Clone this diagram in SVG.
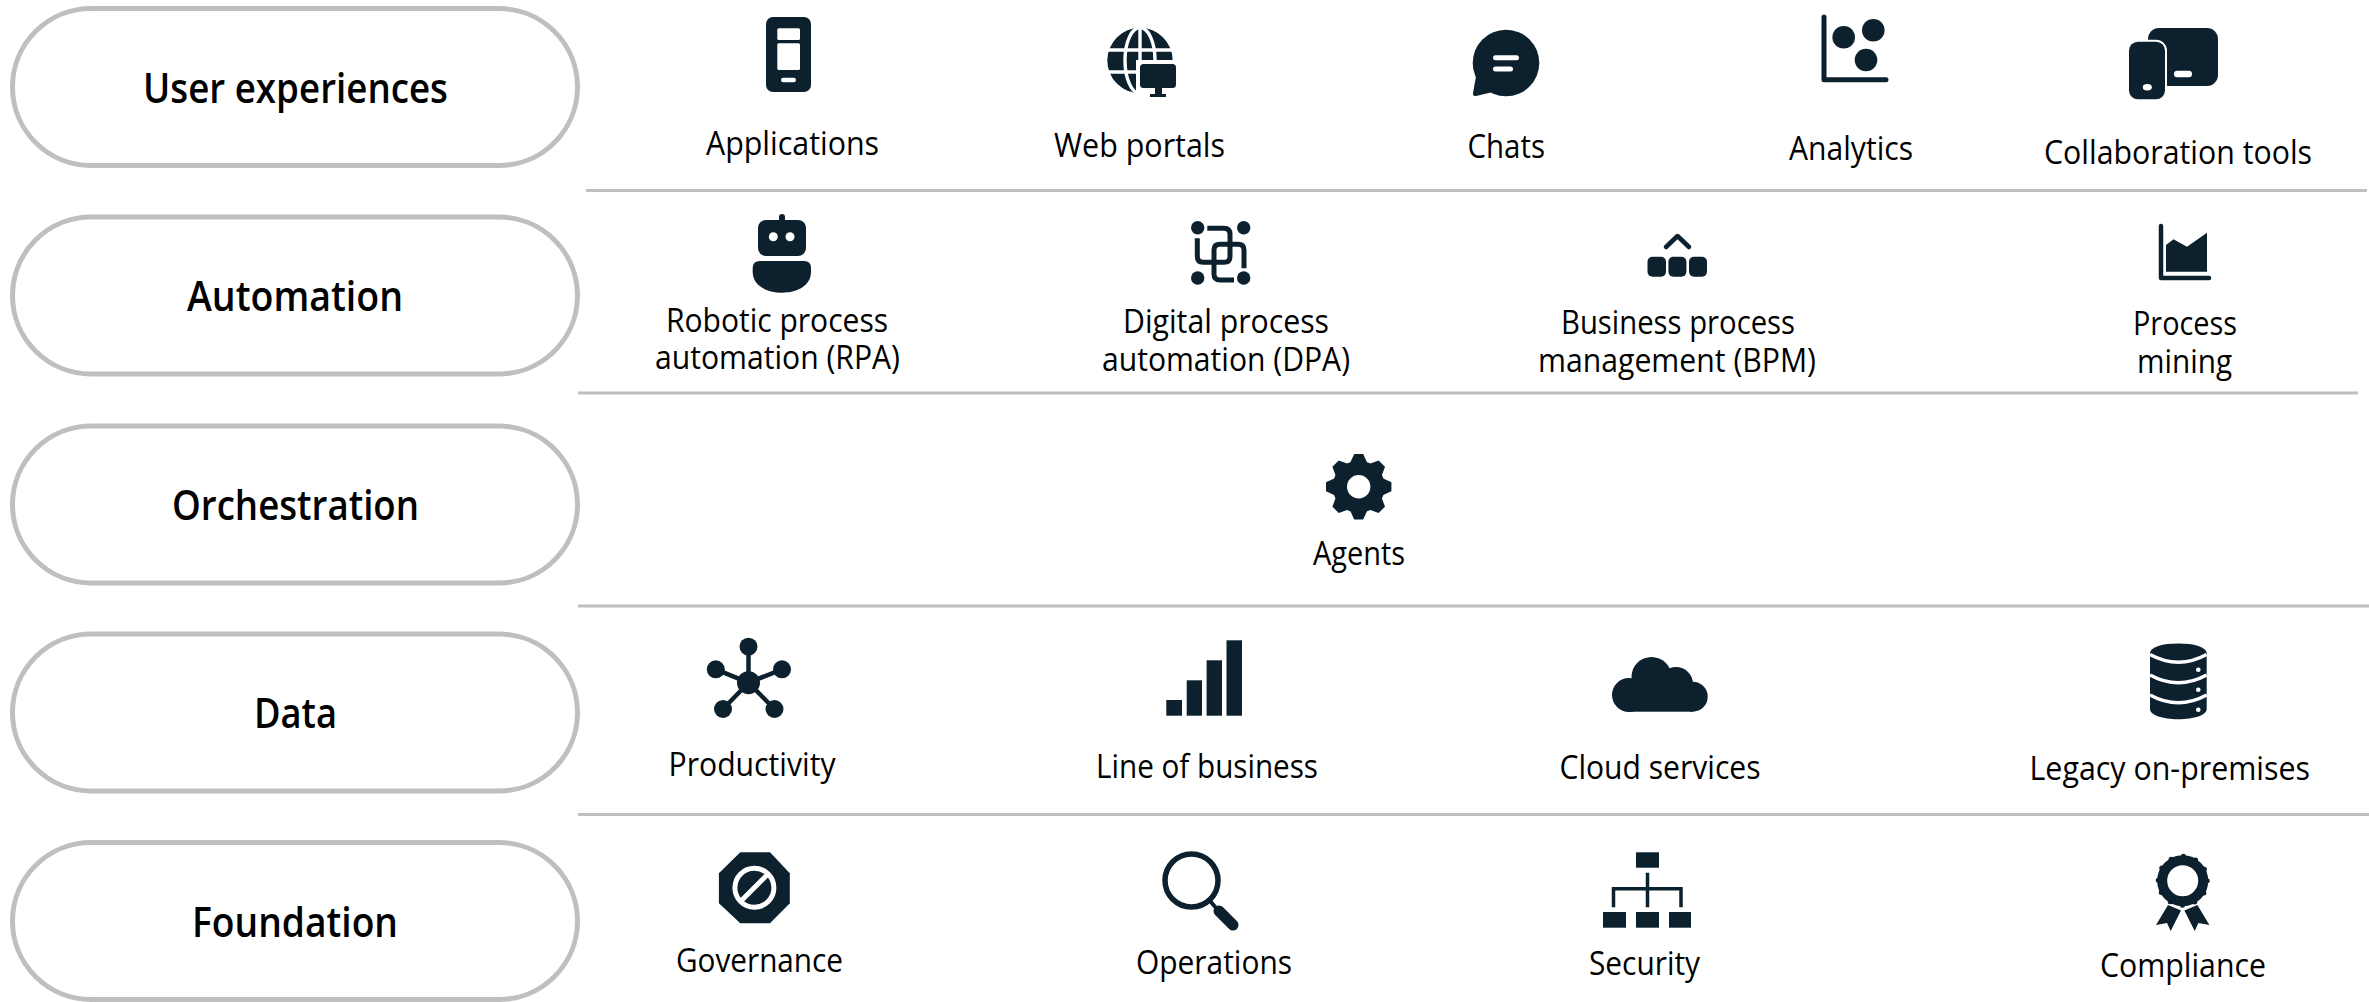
<svg xmlns="http://www.w3.org/2000/svg" xmlns:xlink="http://www.w3.org/1999/xlink" width="2369" height="1002" viewBox="0 0 2369 1002">
<style>
text{font-family:"Open Sans","Noto Sans","Liberation Sans",sans-serif;fill:#000}
.l{font-size:32px}
.h{font-size:42px;font-weight:600}
.pill{fill:#fff;stroke:#bfbfbf;stroke-width:5}
.sep{stroke:#bfbfbf;stroke-width:3;fill:none}
.d{fill:#0c202e}
.w{fill:#fff}
.s{fill:none;stroke:#0c202e;stroke-linecap:round;stroke-linejoin:round}
.ws{fill:none;stroke:#fff;stroke-linecap:round}
</style>
<defs>
<rect id="p" x="12.5" width="565" height="157" rx="78.5" class="pill"/>
<path id="tooth" d="M-8.5,-24 L-4.5,-32.7 H4.5 L8.5,-24 Z" class="d"/>
</defs>
<rect width="2369" height="1002" fill="#fff"/>
<g id="connectors">
<path class="sep" d="M586,190.5H2367"/>
<path class="sep" d="M578,393H2358"/>
<path class="sep" d="M578,606H2369"/>
<path class="sep" d="M578,814.5H2369"/>
</g>
<g id="layer-user-experiences"><use xlink:href="#p" y="8.5"/><text class="h" x="143" y="103" textLength="305" lengthAdjust="spacingAndGlyphs">User experiences</text></g>
<g id="layer-automation"><use xlink:href="#p" y="217"/><text class="h" x="187" y="311" textLength="216" lengthAdjust="spacingAndGlyphs">Automation</text></g>
<g id="layer-orchestration"><use xlink:href="#p" y="426"/><text class="h" x="172" y="520" textLength="247" lengthAdjust="spacingAndGlyphs">Orchestration</text></g>
<g id="layer-data"><use xlink:href="#p" y="634"/><text class="h" x="254" y="728" textLength="83" lengthAdjust="spacingAndGlyphs">Data</text></g>
<g id="layer-foundation"><use xlink:href="#p" y="842.5"/><text class="h" x="192" y="937" textLength="206" lengthAdjust="spacingAndGlyphs">Foundation</text></g>

<g id="applications">
<rect class="d" x="766" y="17" width="45" height="75" rx="7"/>
<rect class="w" x="777.3" y="28.3" width="22.7" height="11.7" rx="1.5"/>
<rect class="w" x="777.3" y="43.3" width="22.7" height="26.7" rx="1.5"/>
<rect class="w" x="781" y="77.7" width="15" height="4.6" rx="2.3"/>
<text class="l" x="706" y="155" textLength="173" lengthAdjust="spacingAndGlyphs">Applications</text>
</g>
<g id="web-portals">
<circle class="d" cx="1140" cy="60.5" r="32.7"/>
<g class="ws" stroke-width="3.4" style="stroke-linecap:butt">
<path d="M1107,50H1173M1107,72H1173M1140,27V94"/>
<ellipse cx="1140" cy="60.5" rx="15" ry="33"/>
</g>
<rect class="w" x="1136" y="60" width="44" height="38"/>
<rect class="d" x="1140" y="64" width="36" height="24" rx="3.5"/>
<path class="d" d="M1155,88H1162V94H1166V97H1150V94H1155Z"/>
<text class="l" x="1054" y="157" textLength="171" lengthAdjust="spacingAndGlyphs">Web portals</text>
</g>
<g id="chats">
<circle class="d" cx="1506" cy="63" r="33.3"/>
<path class="d" d="M1477,71L1473,93Q1472.5,96.5 1476,96L1493,92Z"/>
<rect class="w" x="1493" y="55.2" width="26" height="5" rx="2.5"/>
<rect class="w" x="1493" y="66.5" width="20" height="5" rx="2.5"/>
<text class="l" x="1467.5" y="158" textLength="77.5" lengthAdjust="spacingAndGlyphs">Chats</text>
</g>
<g id="analytics">
<path class="s" stroke-width="5" d="M1824,17V79.7H1886"/>
<circle class="d" cx="1843.7" cy="37.3" r="11.3"/>
<circle class="d" cx="1873.3" cy="30.3" r="11.3"/>
<circle class="d" cx="1866" cy="60" r="11.3"/>
<text class="l" x="1789" y="159.5" textLength="124" lengthAdjust="spacingAndGlyphs">Analytics</text>
</g>
<g id="collaboration-tools">
<rect class="d" x="2148" y="28" width="70" height="58" rx="11"/>
<rect class="d" x="2129" y="41.7" width="36" height="57.6" rx="9" style="stroke:#fff;stroke-width:4;paint-order:stroke"/>
<ellipse class="w" cx="2147.3" cy="87.3" rx="4.5" ry="3.2"/>
<rect class="w" x="2174" y="70.7" width="18" height="6.6" rx="3.3"/>
<text class="l" x="2044" y="164" textLength="268" lengthAdjust="spacingAndGlyphs">Collaboration tools</text>
</g>

<g id="rpa">
<rect class="d" x="779" y="214" width="6" height="10" rx="3"/>
<rect class="d" x="758" y="220" width="48" height="36" rx="8"/>
<circle class="w" cx="773.3" cy="236.7" r="4.5"/>
<circle class="w" cx="790" cy="236.7" r="4.5"/>
<path class="d" d="M760,261H804Q811,261 811,268V272C811,285 798,292.7 782,292.7C766,292.7 752.7,285 752.7,272V268Q752.7,261 760,261Z"/>
<text class="l"><tspan x="666" y="332" textLength="222" lengthAdjust="spacingAndGlyphs">Robotic process</tspan><tspan x="655" y="369" textLength="245" lengthAdjust="spacingAndGlyphs">automation (RPA)</tspan></text>
</g>
<g id="dpa">
<circle class="d" cx="1197.7" cy="227.7" r="6.7"/>
<circle class="d" cx="1243.7" cy="227.7" r="6.7"/>
<circle class="d" cx="1197.7" cy="278" r="6.7"/>
<circle class="d" cx="1243.7" cy="278" r="6.7"/>
<path class="s" stroke-width="5" style="stroke-linecap:butt" d="M1207.3,228.3H1224Q1230,228.3 1230,234.3V256.7Q1230,262.3 1224,262.3H1203Q1197.3,262.3 1197.3,256V238.3"/>
<path class="s" stroke-width="5" style="stroke-linecap:butt" d="M1244,268.3V250Q1244,244.3 1238,244.3H1220Q1214,244.3 1214,250V274Q1214,280 1220,280H1234"/>
<text class="l"><tspan x="1123" y="333" textLength="206" lengthAdjust="spacingAndGlyphs">Digital process</tspan><tspan x="1102" y="371" textLength="248" lengthAdjust="spacingAndGlyphs">automation (DPA)</tspan></text>
</g>
<g id="bpm">
<path class="s" stroke-width="4.5" d="M1666,247L1677.5,236L1689,247"/>
<rect class="d" x="1647.5" y="256.7" width="18.5" height="20" rx="5"/>
<rect class="d" x="1668.4" y="256.7" width="18" height="20" rx="5"/>
<rect class="d" x="1689" y="256.7" width="18" height="20" rx="5"/>
<text class="l"><tspan x="1561" y="334" textLength="234" lengthAdjust="spacingAndGlyphs">Business process</tspan><tspan x="1538" y="372" textLength="278" lengthAdjust="spacingAndGlyphs">management (BPM)</tspan></text>
</g>
<g id="process-mining">
<path class="s" stroke-width="4.5" d="M2161,226V278H2209"/>
<path class="d" d="M2166,245L2173.5,239.3L2187,246.7L2207,232.7V271.7H2166Z"/>
<text class="l"><tspan x="2133" y="335" textLength="104" lengthAdjust="spacingAndGlyphs">Process</tspan><tspan x="2137" y="373" textLength="95" lengthAdjust="spacingAndGlyphs">mining</tspan></text>
</g>

<g id="agents">
<g transform="translate(1358.7,486.7)">
<circle class="d" r="26"/>
<use xlink:href="#tooth"/>
<use xlink:href="#tooth" transform="rotate(45)"/>
<use xlink:href="#tooth" transform="rotate(90)"/>
<use xlink:href="#tooth" transform="rotate(135)"/>
<use xlink:href="#tooth" transform="rotate(180)"/>
<use xlink:href="#tooth" transform="rotate(225)"/>
<use xlink:href="#tooth" transform="rotate(270)"/>
<use xlink:href="#tooth" transform="rotate(315)"/>
<circle class="w" r="11.7"/>
</g>
<text class="l" x="1313" y="565" textLength="92" lengthAdjust="spacingAndGlyphs">Agents</text>
</g>

<g id="productivity">
<path class="s" stroke-width="4.5" d="M748.5,646.7V682.7M715.8,669.3L748.5,682.7L782,669.3M723,709L748.5,682.7L774.5,709"/>
<circle class="d" cx="748.5" cy="682.7" r="11.5"/>
<circle class="d" cx="748.5" cy="646.7" r="9"/>
<circle class="d" cx="715.8" cy="669.3" r="9"/>
<circle class="d" cx="782" cy="669.3" r="9"/>
<circle class="d" cx="723" cy="709" r="9"/>
<circle class="d" cx="774.5" cy="709" r="9"/>
<text class="l" x="668.5" y="776" textLength="167" lengthAdjust="spacingAndGlyphs">Productivity</text>
</g>
<g id="line-of-business">
<rect class="d" x="1166.3" y="700" width="15.7" height="15.7"/>
<rect class="d" x="1186.7" y="680.3" width="15.3" height="35.4"/>
<rect class="d" x="1206.6" y="660.3" width="15.4" height="55.4"/>
<rect class="d" x="1226.5" y="640.3" width="15.5" height="75.4"/>
<text class="l" x="1096" y="778" textLength="222" lengthAdjust="spacingAndGlyphs">Line of business</text>
</g>
<g id="cloud-services">
<circle class="d" cx="1629" cy="695" r="17"/>
<circle class="d" cx="1651.5" cy="677" r="20"/>
<circle class="d" cx="1676" cy="684" r="17"/>
<circle class="d" cx="1692.7" cy="696.7" r="15"/>
<rect class="d" x="1629" y="685" width="64" height="26.7"/>
<text class="l" x="1559.5" y="779" textLength="201" lengthAdjust="spacingAndGlyphs">Cloud services</text>
</g>
<g id="legacy-on-premises">
<path class="d" d="M2150,652.7H2206.7V709C2206.7,715 2194,719.3 2178.3,719.3C2162.7,719.3 2150,715 2150,709Z"/>
<ellipse class="d" cx="2178.3" cy="652.7" rx="28.3" ry="9.3"/>
<g class="ws" stroke-width="3.5" style="stroke-linecap:butt">
<path d="M2150,654.5Q2178.3,670 2206.7,654.5"/>
<path d="M2150,675Q2178.3,690.5 2206.7,675"/>
<path d="M2150,695Q2178.3,710.5 2206.7,695"/>
</g>
<circle class="w" cx="2198.3" cy="669.7" r="2.3"/>
<circle class="w" cx="2198.3" cy="689.7" r="2.3"/>
<circle class="w" cx="2198.3" cy="709.7" r="2.3"/>
<text class="l" x="2029.5" y="780" textLength="280.5" lengthAdjust="spacingAndGlyphs">Legacy on-premises</text>
</g>

<g id="governance">
<path class="d" d="M740.3,852.3H770L789.8,873.3V903.3L770,923.3H740.3L718.9,903.3V873.3Z"/>
<circle class="ws" cx="754.4" cy="887.8" r="19.5" stroke-width="5"/>
<path class="ws" stroke-width="5" style="stroke-linecap:butt" d="M740,902L769,873"/>
<text class="l" x="676" y="972" textLength="167" lengthAdjust="spacingAndGlyphs">Governance</text>
</g>
<g id="operations">
<circle class="s" cx="1191.5" cy="880.5" r="26.5" stroke-width="5.5"/>
<path class="s" stroke-width="4" d="M1210,901L1217,909"/>
<path class="s" stroke-width="11" d="M1219,911L1233,925"/>
<text class="l" x="1136" y="974" textLength="156" lengthAdjust="spacingAndGlyphs">Operations</text>
</g>
<g id="security">
<rect class="d" x="1636" y="852.3" width="23" height="15.4"/>
<path class="s" stroke-width="3.5" style="stroke-linecap:butt;stroke-linejoin:miter" d="M1647.5,872.7V907.3M1613.5,907.3V888.7H1681V907.3"/>
<rect class="d" x="1603" y="912" width="23" height="15.7"/>
<rect class="d" x="1636" y="912" width="23" height="15.7"/>
<rect class="d" x="1669" y="912" width="22" height="15.7"/>
<text class="l" x="1589" y="975" textLength="111" lengthAdjust="spacingAndGlyphs">Security</text>
</g>
<g id="compliance">
<circle class="s" cx="2182.7" cy="880.7" r="20.5" stroke-width="10"/>
<circle class="s" cx="2182.7" cy="880.7" r="24.5" stroke-width="5" stroke-dasharray="0 12.83"/>
<path class="d" d="M2168,905L2181,910.5L2170.7,931L2167,923L2156,925Z"/>
<path class="d" d="M2197.4,905L2184.4,910.5L2194.7,931L2198.4,923L2209.4,925Z"/>
<text class="l" x="2100" y="977" textLength="166" lengthAdjust="spacingAndGlyphs">Compliance</text>
</g>
</svg>
